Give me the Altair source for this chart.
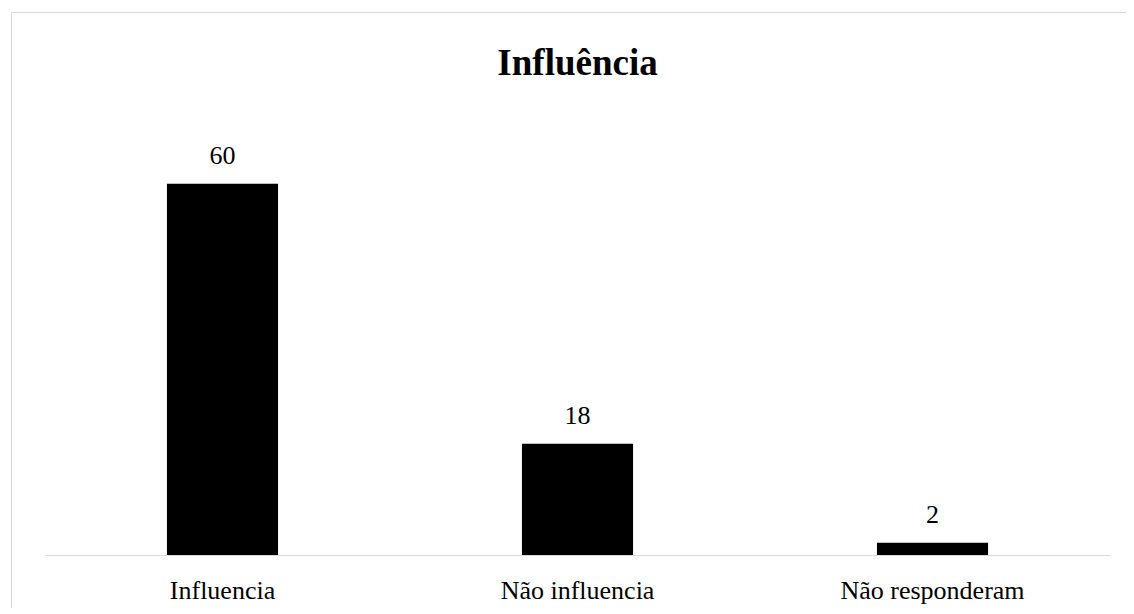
import altair as alt
import pandas as pd

categories = ["Influencia", "Não influencia", "Não responderam"]
values = [60, 18, 2]
title_text = "Influência"

df = pd.DataFrame({"cat": categories, "val": values})
FONT = "Liberation Serif"

base = alt.Chart(df)

x_enc = alt.X(
    "cat:N",
    sort=categories,
    title=None,
    scale=alt.Scale(paddingInner=0.687, paddingOuter=0.3435),
    axis=alt.Axis(
        labelAngle=0,
        labelFont=FONT,
        labelFontSize=26,
        labelColor="#000000",
        labelPadding=43,
        labelBaseline="alphabetic",
        labelLimit=0,
        ticks=False,
        tickSize=0,
        domainColor="#d9d9d9",
        domainWidth=1,
        grid=False,
    ),
)
y_enc = alt.Y("val:Q", scale=alt.Scale(domain=[0, 70]), axis=None)

bars = base.mark_bar(color="#000000").encode(x=x_enc, y=y_enc)
labels = base.mark_text(
    font=FONT, fontSize=26, color="#000000", baseline="alphabetic", dy=-20
).encode(x=alt.X("cat:N", sort=categories), y="val:Q", text="val:Q")

border = alt.Chart(pd.DataFrame({"b": [0]})).mark_rect(
    filled=False, stroke="#d9d9d9", strokeWidth=1
).encode(
    x=alt.value(-33.5), y=alt.value(-109.5), x2=alt.value(3000), y2=alt.value(3000)
)

chart = alt.layer(border, bars, labels).properties(
    width=1065,
    height=433,
    title=alt.TitleParams(
        text=title_text,
        font=FONT,
        fontSize=37,
        fontWeight="bold",
        color="#000000",
        anchor="middle",
        baseline="alphabetic",
        frame="group",
        offset=-100,
    ),
    autosize=alt.AutoSizeParams(type="none"),
    padding={"left": 37, "top": 114, "right": 16, "bottom": 53},
).configure_view(stroke=None)

chart.save("out.html", embed_options={"renderer": "svg", "actions": False})
